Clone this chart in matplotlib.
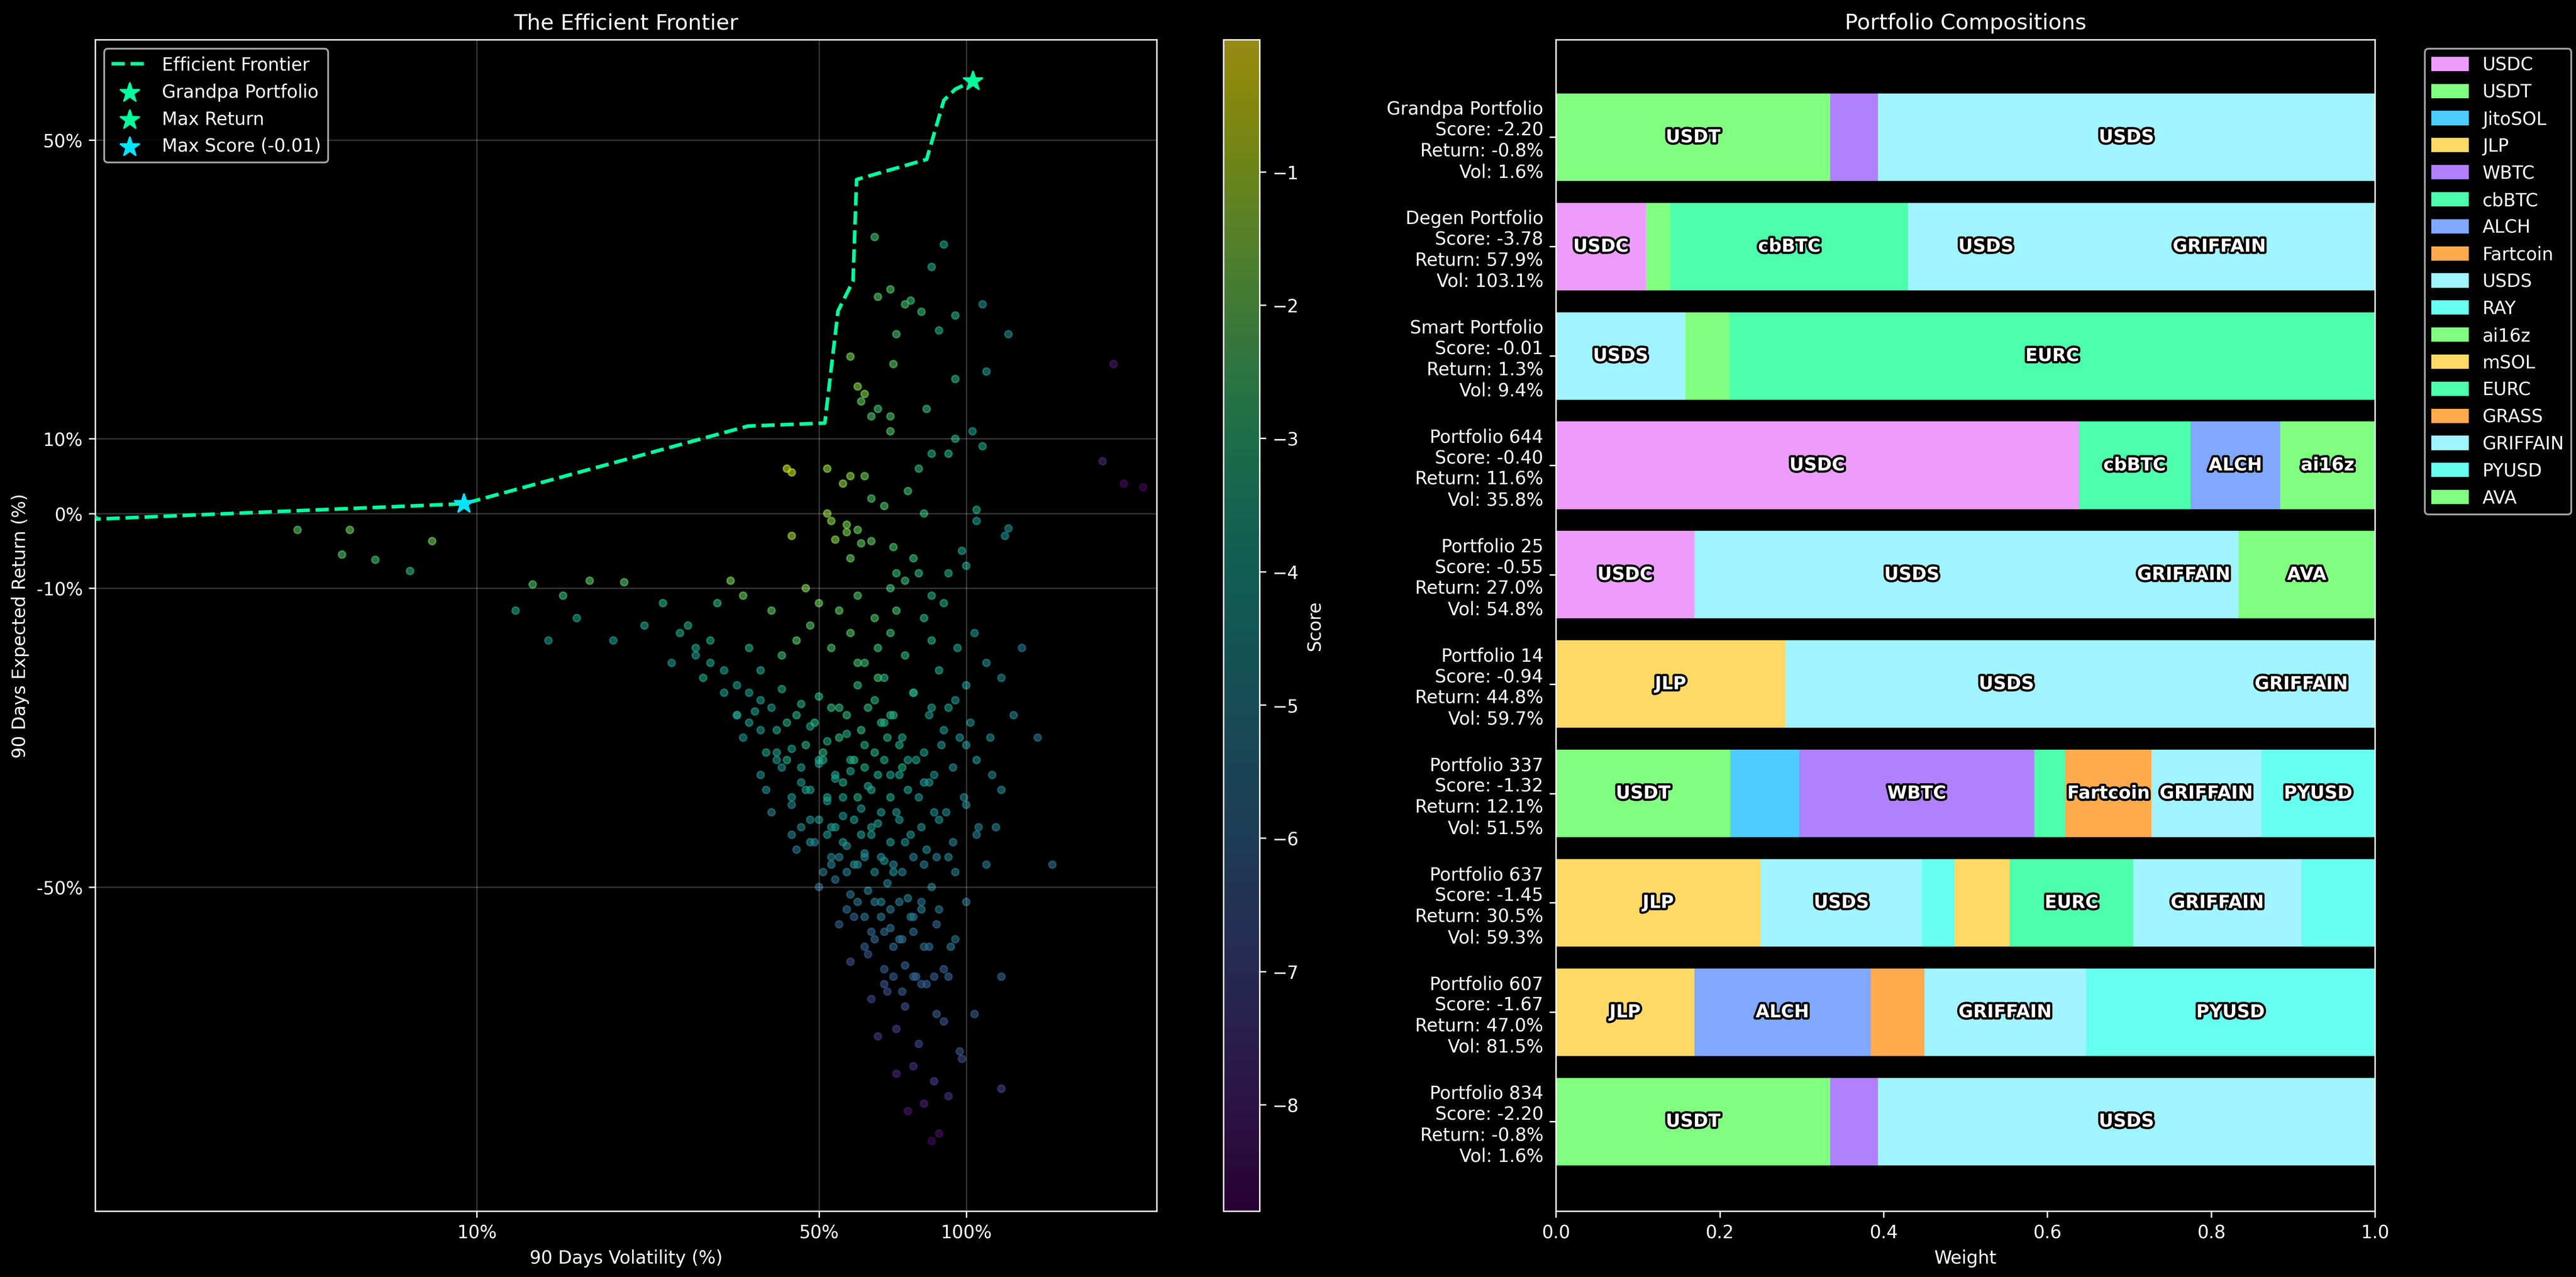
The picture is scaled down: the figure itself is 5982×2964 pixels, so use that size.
import numpy as np
import matplotlib
matplotlib.use("Agg")
import matplotlib.pyplot as plt
import matplotlib.patheffects as pe
from matplotlib.ticker import FixedLocator, NullLocator

# ---- scatter cloud (vol %, return %, score) ----
cloud_vol = [
    4.3, 5.3, 5.5, 6.2, 7.3, 8.1,
    65, 90, 85, 70, 75, 66, 77, 81, 95, 108, 122, 72, 88, 58, 71, 95, 110, 60, 62, 61,
    64, 66, 70, 83, 70, 95, 92, 103, 108, 85, 200, 190, 210, 230, 80,
    43, 44, 52, 58, 56, 62, 64, 68, 76, 82, 105, 105, 120, 122,
    52, 53, 57, 57, 60, 54, 44, 61, 64, 58, 71, 72, 78, 80, 98, 100, 92, 75, 70, 85,
    13, 15, 17, 12, 20, 24, 22, 27, 31, 33, 35, 30, 19, 16, 14, 25, 28, 36, 38, 40,
    42, 45, 47, 48, 50, 53, 55, 58, 60, 62, 65, 66, 68, 70, 72, 75, 78, 82, 85, 88,
    90, 92, 96, 100, 104, 110, 118, 130, 125, 140, 112, 105, 118,
    32, 37, 42, 46, 50, 55, 60, 65, 70, 78, 85, 95,
    35, 38, 44, 48, 52, 57, 62, 68, 74, 82, 90, 100,
    38, 42, 46, 50, 54, 58, 63, 70, 76, 84, 94,
    40, 44, 48, 52, 56, 61, 66, 72, 80, 88, 100, 115,
    45, 49, 53, 57, 62, 68, 75, 83, 92, 105,
    50, 54, 58, 63, 69, 76, 85, 95, 110, 150,
    55, 59, 64, 70, 78, 88, 100,
    58, 63, 68, 75, 84, 95, 118,
    64, 69, 75, 83, 92,
    66, 72, 80, 90, 104,
    72, 78, 86, 98,
    76, 82, 92, 118,
    85, 88,
    29, 34, 41, 47, 53, 59, 67, 73, 79, 87, 97, 43, 51, 56, 64, 71, 81, 93, 60, 66, 74,
    # denser core
    34, 36, 39, 41, 43, 45, 47, 49, 51, 53, 55, 57, 59, 61, 63, 65, 67, 69, 71, 73,
    39, 41, 44, 46, 48, 50, 52, 54, 56, 58, 60, 62, 64, 66, 68, 70, 73, 76, 79, 82,
    44, 46, 48, 50, 52, 54, 56, 59, 61, 64, 67, 70, 73, 77, 81, 86,
    51, 53, 55, 57, 60, 62, 65, 67, 71, 74, 78, 82, 87,
    57, 60, 62, 65, 67, 70, 73, 77, 81,
    62, 65, 68, 71, 74, 78, 82, 87,
    68, 71, 74, 78, 81, 86, 90,
    26, 28, 30, 32, 34, 36, 38, 40,
    84, 86, 89, 91, 94, 97, 99, 102, 106, 113,
]
cloud_ret = [
    -2.2, -5.5, -2.2, -6.2, -7.7, -3.7,
    37, 36, 33, 30, 28, 29, 28.5, 27, 26.5, 28, 24, 24, 24.5, 21, 20, 18, 19, 17, 16, 15,
    13, 14, 13, 14, 11, 10, 8, 11, 9, 8, 20, 7, 4, 3.5, 6,
    6, 5.5, 6, 5, 4, 5, 2, 1, 3, 0, 0.5, -1, -3, -2,
    0, -1, -1.5, -2.5, -2.2, -3.5, -3, -4, -3.7, -6, -4.5, -8, -6, -8, -5, -7, -8, -9, -10, -11,
    -9.5, -11, -9, -13, -9.2, -12, -15, -15, -12, -9, -11, -17, -17, -14, -17, -20, -19, -18, -21, -13,
    -19, -17, -10, -15, -12, -18, -13, -16, -11, -20, -14, -18, -22, -16, -13, -19, -24, -14, -17, -21,
    -12, -26, -18, -23, -16, -20, -22, -18, -27, -30, -30, -33, -37,
    -24, -26.5, -23.5, -25.5, -24.5, -26, -23, -25, -27, -24, -26, -25,
    -30, -29, -31.5, -28.5, -30.5, -29.5, -31, -28, -30, -32, -29, -31,
    -35, -34, -36, -33.5, -35.5, -34.5, -36.5, -35, -33, -36, -34,
    -40, -39, -41, -38.5, -40.5, -39.5, -41.5, -40, -38, -41, -39, -42,
    -45, -44, -46, -44.5, -45.5, -46.5, -44, -45, -46, -43,
    -50, -49, -51, -50.5, -49.5, -51.5, -50, -48, -47, -47,
    -55, -54, -56, -55.5, -54, -53, -52,
    -60, -59, -61, -60.5, -58, -57, -62,
    -65, -64, -66, -63, -62,
    -70, -69, -71, -68, -67,
    -75, -74, -76, -73,
    -80, -79, -78, -77,
    -84, -83,
    -22, -27, -32, -37, -42, -47, -52, -57, -62, -67, -72, -28, -33, -38, -43, -48, -53, -58, -20, -22, -34,
    -27, -28, -32, -29, -33, -27, -31, -28, -32, -26, -30, -27, -33, -29, -26, -32, -28, -30, -27, -31,
    -37, -33, -38, -34, -37, -33, -38, -35, -36, -33, -38, -34, -37, -35, -33, -38, -35, -37, -33, -36,
    -43, -42, -44, -41, -43, -42, -44, -41, -43, -42, -40, -44, -41, -43, -42, -40,
    -48, -47, -46, -48, -47, -46, -48, -46, -47, -48, -46, -47, -46,
    -53, -52, -54, -52, -54, -53, -52, -54, -52,
    -58, -57, -56, -58, -57, -56, -58, -55,
    -63, -62, -64, -62, -63, -62, -61,
    -16, -18, -20, -21, -23, -24, -25, -26,
    -27, -35, -31, -40, -44, -30, -38, -28, -42, -35,
]
cloud_score = [
    -2.3, -2.4, -2.0, -2.6, -3.0, -2.0,
    -2.6, -3.8, -3.6, -2.4, -2.6, -2.3, -2.8, -2.8, -3.3, -4.5, -4.5, -2.6, -3.4, -1.8, -2.3, -3.2, -4.2, -1.6, -1.7, -2.2,
    -2.4, -2.6, -2.5, -2.9, -2.4, -3.5, -3.3, -4.0, -3.7, -3.4, -8.2, -7.8, -8.5, -8.6, -3.0,
    -0.8, -0.8, -1.4, -1.5, -1.5, -2.0, -2.5, -2.4, -2.6, -3.0, -3.6, -4.0, -4.5, -4.6,
    -1.4, -1.6, -1.8, -1.8, -2.0, -1.6, -1.3, -2.2, -2.2, -2.1, -2.6, -2.9, -2.8, -3.0, -3.8, -3.9, -3.5, -2.8, -2.7, -3.4,
    -2.5, -2.8, -2.2, -3.6, -2.3, -3.2, -3.6, -3.5, -3.0, -1.8, -2.0, -3.5, -4.0, -3.8, -4.2, -4.1, -4.0, -3.4, -3.7, -2.2,
    -2.8, -2.3, -1.7, -2.4, -2.0, -2.5, -2.2, -2.4, -2.4, -2.8, -2.5, -2.8, -3.2, -2.8, -2.6, -3.0, -3.4, -3.2, -3.3, -3.6,
    -3.5, -4.0, -3.8, -4.2, -4.4, -4.6, -4.8, -5.3, -5.0, -5.4, -4.6, -4.3, -4.7,
    -4.0, -3.9, -3.6, -3.4, -3.2, -3.1, -3.0, -3.2, -3.4, -3.6, -3.9, -4.3,
    -4.3, -4.2, -4.0, -3.8, -3.6, -3.5, -3.5, -3.6, -3.8, -4.0, -4.2, -4.6,
    -4.6, -4.5, -4.3, -4.1, -4.0, -3.9, -3.9, -4.0, -4.1, -4.3, -4.6,
    -5.0, -4.9, -4.7, -4.5, -4.4, -4.3, -4.2, -4.3, -4.4, -4.6, -4.8, -5.0,
    -5.3, -5.2, -5.0, -4.8, -4.7, -4.6, -4.6, -4.7, -4.9, -5.1,
    -5.8, -5.6, -5.4, -5.2, -5.1, -5.0, -5.0, -5.1, -5.2, -5.6,
    -6.2, -6.0, -5.8, -5.6, -5.5, -5.4, -5.5,
    -6.7, -6.5, -6.3, -6.0, -5.8, -5.7, -5.9,
    -7.0, -6.8, -6.6, -6.2, -6.0,
    -7.4, -7.2, -7.0, -6.6, -6.2,
    -7.9, -7.6, -7.2, -6.8,
    -8.3, -8.0, -7.6, -7.0,
    -8.6, -8.4,
    -3.6, -3.7, -3.9, -4.0, -4.3, -4.6, -5.0, -5.4, -5.8, -6.2, -6.6, -3.5, -3.6, -3.9, -4.2, -4.6, -5.0, -5.4, -2.6, -2.7, -3.6,
    -4.1, -4.0, -3.9, -3.7, -3.6, -3.3, -3.3, -3.2, -3.2, -3.0, -3.1, -3.0, -3.2, -3.1, -3.1, -3.3, -3.3, -3.4, -3.4, -3.6,
    -4.6, -4.3, -4.3, -4.1, -4.0, -3.8, -3.8, -3.7, -3.6, -3.5, -3.5, -3.5, -3.6, -3.6, -3.6, -3.7, -3.8, -3.9, -4.0, -4.1,
    -4.9, -4.7, -4.6, -4.4, -4.3, -4.2, -4.2, -4.1, -4.1, -4.1, -4.1, -4.2, -4.3, -4.4, -4.5, -4.7,
    -5.3, -5.1, -5.0, -4.9, -4.8, -4.8, -4.7, -4.7, -4.8, -4.9, -5.0, -5.1, -5.2,
    -5.6, -5.4, -5.4, -5.3, -5.3, -5.3, -5.3, -5.4, -5.5,
    -6.0, -5.9, -5.8, -5.8, -5.8, -5.8, -5.8, -5.9,
    -6.4, -6.3, -6.3, -6.2, -6.2, -6.2, -6.2,
    -3.6, -3.7, -3.8, -3.9, -4.0, -4.0, -4.0, -4.1,
    -4.2, -4.6, -4.4, -4.8, -5.0, -4.5, -4.9, -4.6, -5.1, -5.0,
]

frontier_vol = [1.6, 9.4, 35.8, 51.4, 54.7, 58.7, 59.7, 83.0, 90.0, 95.0, 103.1]
frontier_ret = [-0.8, 1.3, 11.7, 12.1, 27.1, 31.1, 44.7, 47.4, 55.3, 56.8, 57.9]

# ---- portfolio compositions ----
tokens = ["USDC", "USDT", "JitoSOL", "JLP", "WBTC", "cbBTC", "ALCH", "Fartcoin", "USDS",
          "RAY", "ai16z", "mSOL", "EURC", "GRASS", "GRIFFAIN", "PYUSD", "AVA"]
token_colors = ["#ee9cfc", "#80ff80", "#4dcdff", "#ffd966", "#b080ff", "#4dffaa", "#80a8ff",
                "#ffaa4d", "#a0f4ff", "#66fff0", "#80ff80", "#ffd966", "#4dffaa", "#ffaa4d",
                "#a0f4ff", "#66fff0", "#80ff80"]

portfolio_labels = [
    "Grandpa Portfolio\nScore: -2.20\nReturn: -0.8%\nVol: 1.6%",
    "Degen Portfolio\nScore: -3.78\nReturn: 57.9%\nVol: 103.1%",
    "Smart Portfolio\nScore: -0.01\nReturn: 1.3%\nVol: 9.4%",
    "Portfolio 644\nScore: -0.40\nReturn: 11.6%\nVol: 35.8%",
    "Portfolio 25\nScore: -0.55\nReturn: 27.0%\nVol: 54.8%",
    "Portfolio 14\nScore: -0.94\nReturn: 44.8%\nVol: 59.7%",
    "Portfolio 337\nScore: -1.32\nReturn: 12.1%\nVol: 51.5%",
    "Portfolio 637\nScore: -1.45\nReturn: 30.5%\nVol: 59.3%",
    "Portfolio 607\nScore: -1.67\nReturn: 47.0%\nVol: 81.5%",
    "Portfolio 834\nScore: -2.20\nReturn: -0.8%\nVol: 1.6%",
]
portfolio_weights = [
    [("USDT", 0.335), ("WBTC", 0.058), ("USDS", 0.607)],
    [("USDC", 0.11), ("USDT", 0.03), ("cbBTC", 0.29), ("USDS", 0.19), ("GRIFFAIN", 0.38)],
    [("USDS", 0.158), ("USDT", 0.054), ("EURC", 0.788)],
    [("USDC", 0.638), ("cbBTC", 0.137), ("ALCH", 0.109), ("ai16z", 0.116)],
    [("USDC", 0.169), ("USDS", 0.531), ("GRIFFAIN", 0.133), ("AVA", 0.167)],
    [("JLP", 0.28), ("USDS", 0.54), ("GRIFFAIN", 0.18)],
    [("USDT", 0.213), ("JitoSOL", 0.084), ("WBTC", 0.287), ("cbBTC", 0.038), ("Fartcoin", 0.105),
     ("GRIFFAIN", 0.134), ("PYUSD", 0.139)],
    [("JLP", 0.25), ("USDS", 0.197), ("RAY", 0.039), ("mSOL", 0.068), ("EURC", 0.151),
     ("GRIFFAIN", 0.205), ("PYUSD", 0.09)],
    [("JLP", 0.169), ("ALCH", 0.215), ("GRASS", 0.066), ("GRIFFAIN", 0.197), ("PYUSD", 0.353)],
    [("USDT", 0.335), ("WBTC", 0.058), ("USDS", 0.607)],
]

plt.style.use("dark_background")
plt.rcParams["font.family"] = ["DejaVu Sans"]
fig = plt.figure(figsize=(19.94, 9.883), dpi=300)
ax = fig.add_axes([0.037, 0.0515, 0.412, 0.917])
cax = fig.add_axes([0.475, 0.0515, 0.014, 0.917])
bx = fig.add_axes([0.604, 0.0515, 0.318, 0.917])

sc = ax.scatter(cloud_vol, cloud_ret, c=cloud_score, cmap="viridis", vmin=-8.8, vmax=-0.01,
                s=16, alpha=0.6, linewidths=0.8)
ax.plot(frontier_vol, frontier_ret, "--", color="#00ff9c", lw=2, label="Efficient Frontier")
ax.scatter([1.6], [-0.8], marker="*", s=120, color="#00ff9c", zorder=5, label="Grandpa Portfolio")
ax.scatter([103.1], [57.9], marker="*", s=120, color="#00ff9c", zorder=5, label="Max Return")
ax.scatter([9.4], [1.3], marker="*", s=120, color="#00e5ff", zorder=5, label="Max Score (-0.01)")
ax.set_xscale("log")
ax.set_xlim(1.66, 245)
ax.set_ylim(-93.4, 63.4)
ax.xaxis.set_major_locator(FixedLocator([10, 50, 100]))
ax.xaxis.set_minor_locator(NullLocator())
ax.set_xticklabels(["10%", "50%", "100%"])
ax.set_yticks([-50, -10, 0, 10, 50])
ax.set_yticklabels(["-50%", "-10%", "0%", "10%", "50%"])
ax.grid(True, alpha=0.2)
ax.set_xlabel("90 Days Volatility (%)")
ax.set_ylabel("90 Days Expected Return (%)")
ax.set_title("The Efficient Frontier")
ax.legend(loc="upper left")
cb = fig.colorbar(sc, cax=cax)
cb.set_label("Score")

color_of = dict(zip(tokens, token_colors))
y = np.arange(len(portfolio_labels))
for i, comp in enumerate(portfolio_weights):
    left = 0.0
    for tok, w in comp:
        bx.barh(i, w, left=left, height=0.8, color=color_of[tok])
        if w >= 0.1:
            bx.text(left + w / 2, i, tok, ha="center", va="center", color="white",
                    fontweight="bold", fontsize=10,
                    path_effects=[pe.withStroke(linewidth=2.5, foreground="black")])
        left += w
bx.set_yticks(y)
bx.set_yticklabels(portfolio_labels)
bx.set_ylim(len(y) - 0.18, -0.89)
bx.set_xlim(0, 1)
bx.set_xlabel("Weight")
bx.set_title("Portfolio Compositions")
handles = [plt.Rectangle((0, 0), 1, 1, color=color_of[t]) for t in tokens]
bx.legend(handles, tokens, loc="upper left", bbox_to_anchor=(1.05, 1.0))

fig.savefig("out.png", dpi=300)
